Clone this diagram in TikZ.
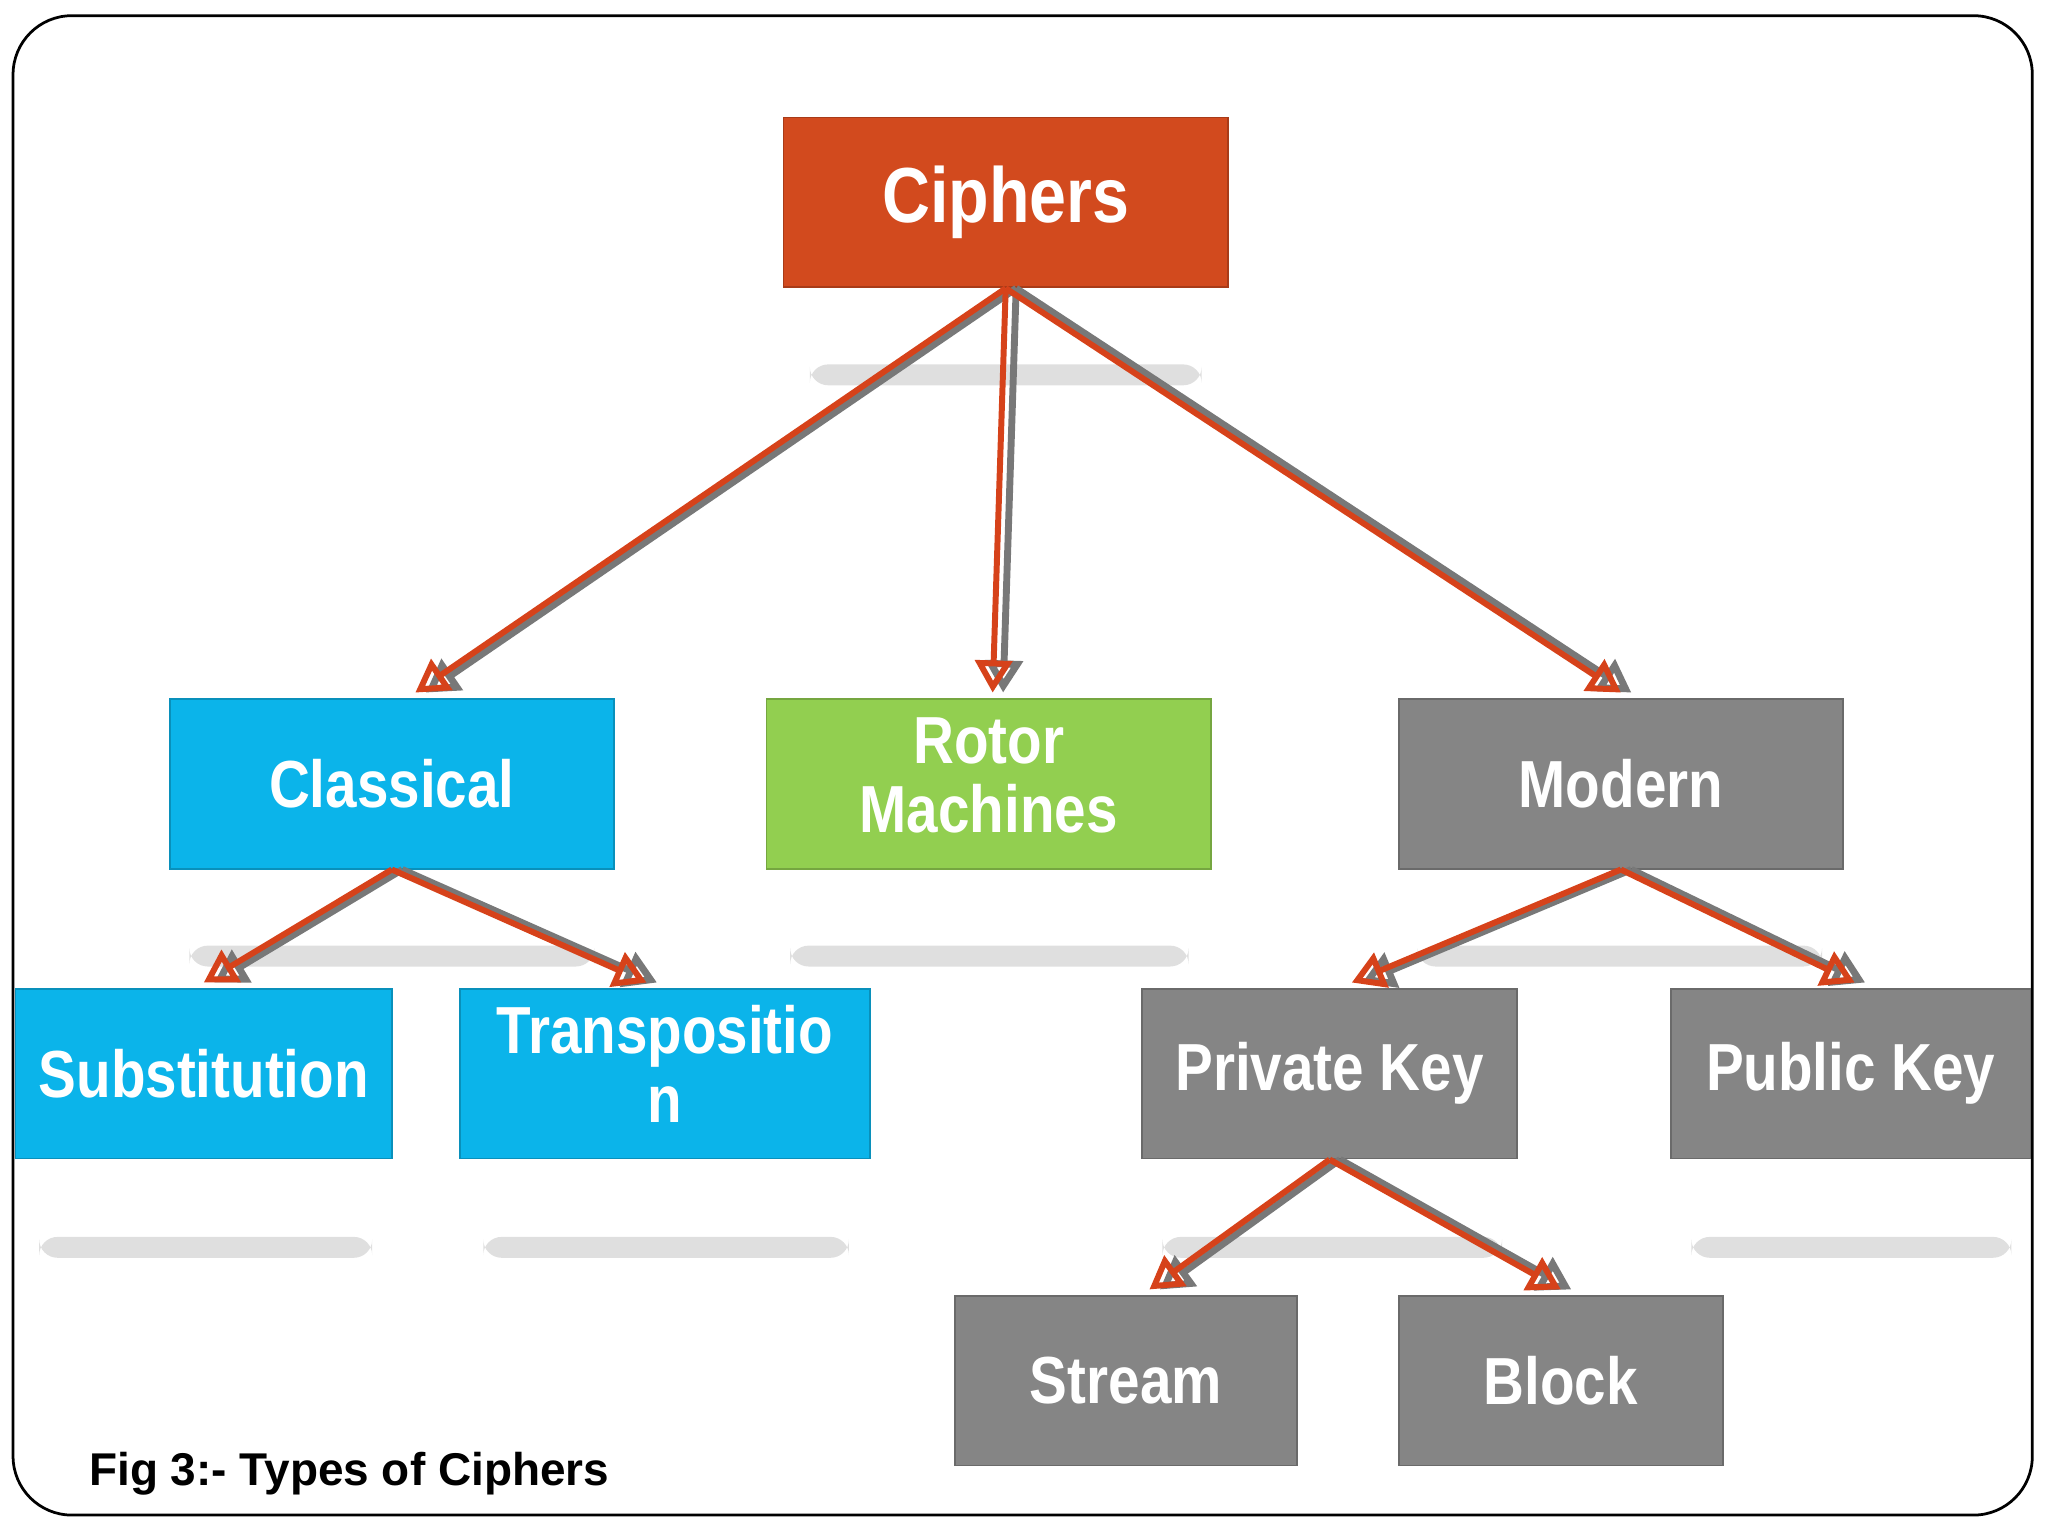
\documentclass[tikz,border=0pt]{standalone}
\usepackage{fontspec}
\setmainfont{Liberation Sans}
\usetikzlibrary{arrows.meta}
\definecolor{ciphred}{RGB}{210,74,30}
\definecolor{classcyan}{RGB}{11,180,234}
\definecolor{rotorgreen}{RGB}{146,207,80}
\definecolor{modgray}{RGB}{133,133,133}
\definecolor{linkred}{RGB}{214,66,26}
\definecolor{linkgray}{RGB}{120,120,120}
\tikzset{
  box/.style={draw=#1!80!black, fill=#1, text=white, font=\bfseries\fontsize{14.5}{16}\selectfont,
    align=center, inner sep=0pt, minimum height=1.3cm},
  link/.style={draw=linkred, line width=1.3pt, -{Triangle[open, length=7pt, width=8pt]}},
  linkshade/.style={draw=linkgray, line width=1.5pt, -{Triangle[open, length=7pt, width=8pt]}},
  ghost/.style={fill=gray!25, rounded corners=4pt}
}
\begin{document}
\begin{tikzpicture}[x=0.01cm, y=-0.01cm]
  \useasboundingbox (0,0) rectangle (1568,1176);
  \draw[black, line width=0.6pt, rounded corners=0.45cm] (10,12) rectangle (1556,1160);

  % faint reflections
  \foreach \a/\b/\y in {620/920/287, 145/455/732, 605/910/732, 1085/1395/732,
                        30/285/955, 370/650/955, 890/1150/955, 1295/1540/955} {
    \fill[ghost] (\a,\y-8) rectangle (\b,\y+8);
  }

  % boxes
  \node[box=ciphred, minimum width=3.4cm] (ciph) at (770,155) {\scalebox{0.85}[1]{\fontsize{17}{20}\selectfont Ciphers}};
  \node[box=classcyan, minimum width=3.4cm] (clas) at (300,600) {\scalebox{0.85}[1]{Classical}};
  \node[box=rotorgreen, minimum width=3.4cm] (rotor) at (757,600) {\scalebox{0.85}[1]{\begin{tabular}{c}Rotor\\[-1pt]Machines\end{tabular}}};
  \node[box=modgray, minimum width=3.4cm] (mod) at (1241,600) {\scalebox{0.85}[1]{Modern}};
  \node[box=classcyan, minimum width=2.88cm] (subst) at (156,822) {\scalebox{0.85}[1]{Substitution}};
  \node[box=classcyan, minimum width=3.14cm] (trans) at (509,822) {\scalebox{0.85}[1]{\begin{tabular}{c}Transpositio\\[-1pt]n\end{tabular}}};
  \node[box=modgray, minimum width=2.87cm] (priv) at (1018,822) {\scalebox{0.85}[1]{Private Key}};
  \node[box=modgray, minimum width=2.75cm] (pub) at (1417,822) {\scalebox{0.85}[1]{Public Key}};
  \node[box=modgray, minimum width=2.62cm] (strm) at (862,1057) {\scalebox{0.85}[1]{Stream}};
  \node[box=modgray, minimum width=2.48cm] (blk) at (1195,1057) {\scalebox{0.85}[1]{Block}};

  % connectors: gray shadow line then red arrow
  \foreach \p/\c/\dx in {ciph/clas/18, ciph/rotor/3, ciph/mod/0, clas/subst/0, clas/trans/-14,
                      mod/priv/17, mod/pub/3, priv/strm/18, priv/blk/0} {
    \draw[linkshade] ([xshift=8*0.01cm]\p.south) -- ([xshift=(\dx+8)*0.01cm, yshift=0.04cm]\c.north);
    \draw[link] (\p.south) -- ([xshift=\dx*0.01cm, yshift=0.04cm]\c.north);
  }

  \node[anchor=west, font=\bfseries\fontsize{10}{12}\selectfont] (cap) at (56,1128) {Fig 3:- Types of Ciphers};
\end{tikzpicture}
\end{document}
